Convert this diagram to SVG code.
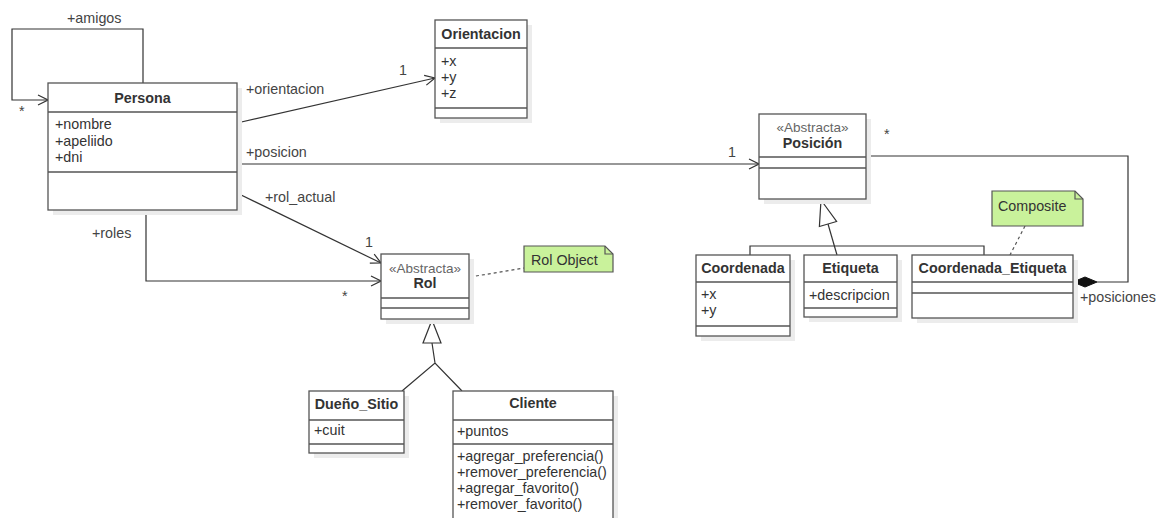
<svg xmlns="http://www.w3.org/2000/svg" width="1161" height="518" viewBox="0 0 1161 518">
<style>
text{font-family:"Liberation Sans",Arial,sans-serif;font-size:14.3px;fill:#333}
.t{font-weight:bold;text-anchor:middle}
.st{text-anchor:middle;fill:#666;font-size:13.5px}
.box{fill:#fff;stroke:#555;stroke-width:1.3}
.sh{fill:#ececec}
.div{stroke:#555;stroke-width:1.3}
.con{fill:none;stroke:#333;stroke-width:1.2}
.dash{fill:none;stroke:#555;stroke-width:1.2;stroke-dasharray:3,3}
.note{fill:#c9f29b;stroke:#555;stroke-width:1.2}
.lbl{fill:#444}
</style>
<defs>
<marker id="open" viewBox="0 0 12 12" refX="11" refY="6" markerWidth="12" markerHeight="12" markerUnits="userSpaceOnUse" orient="auto">
<path d="M1,1 L11,6 L1,11" fill="none" stroke="#333" stroke-width="1.2"/>
</marker>
</defs>
<rect width="1161" height="518" fill="#fff"/>

<g id="connectors">
<path class="con" d="M143,83 V29 H12 V100 H48" marker-end="url(#open)"/>
<path class="con" d="M237,123 L435,78" marker-end="url(#open)"/>
<path class="con" d="M237,164 L759,164" marker-end="url(#open)"/>
<path class="con" d="M237,193 L381,263" marker-end="url(#open)"/>
<path class="con" d="M146,210 V281 H381" marker-end="url(#open)"/>
<path class="con" d="M866,156 H1128 V282 H1097"/>
<path d="M1073,282 L1085,277 L1097,282 L1085,287 Z" fill="#111" stroke="#111"/>
<path class="con" d="M828,224 L837,255"/>
<path d="M821,200 L836.6,221.5 L819.4,226.5 Z" fill="#fff" stroke="#333" stroke-width="1.2"/>
<path class="con" d="M750,255 V246 H984 V255"/>
<path class="con" d="M432,343 L435,363 M402,391 L435,363 L462,391"/>
<path d="M432,320 L441,343 L423,343 Z" fill="#fff" stroke="#333" stroke-width="1.2"/>
<path class="dash" d="M470,277 L524,268"/>
<path class="dash" d="M1025,226 L1010,255"/>
<text class="lbl" x="67" y="23">+amigos</text>
<text class="lbl" x="19" y="116">*</text>
<text class="lbl" x="246" y="94">+orientacion</text>
<text class="lbl" x="399" y="75">1</text>
<text class="lbl" x="246" y="157">+posicion</text>
<text class="lbl" x="728" y="157">1</text>
<text class="lbl" x="884" y="139">*</text>
<text class="lbl" x="265" y="202">+rol_actual</text>
<text class="lbl" x="365" y="247">1</text>
<text class="lbl" x="92" y="238">+roles</text>
<text class="lbl" x="342" y="301">*</text>
<text class="lbl" x="1080" y="302">+posiciones</text>
</g>

<g id="Persona">
<rect class="sh" x="53" y="88" width="189" height="127"/>
<rect class="box" x="48" y="83" width="189" height="127"/>
<line class="div" x1="48" y1="112" x2="237" y2="112"/>
<line class="div" x1="48" y1="172" x2="237" y2="172"/>
<text class="t" x="142.5" y="103">Persona</text>
<text x="55" y="129">+nombre</text>
<text x="55" y="146">+apeliido</text>
<text x="55" y="162">+dni</text>
</g>

<g id="Orientacion">
<rect class="sh" x="440" y="25" width="92" height="98"/>
<rect class="box" x="435" y="20" width="92" height="98"/>
<line class="div" x1="435" y1="48" x2="527" y2="48"/>
<line class="div" x1="435" y1="108" x2="527" y2="108"/>
<text class="t" x="481" y="39">Orientacion</text>
<text x="441" y="66">+x</text>
<text x="441" y="82">+y</text>
<text x="441" y="98">+z</text>
</g>

<g id="Posicion">
<rect class="sh" x="764" y="119" width="107" height="85"/>
<rect class="box" x="759" y="114" width="107" height="85"/>
<line class="div" x1="759" y1="157" x2="866" y2="157"/>
<line class="div" x1="759" y1="168" x2="866" y2="168"/>
<text class="st" x="812.5" y="131.5">«Abstracta»</text>
<text class="t" x="812.5" y="148">Posición</text>
</g>

<g id="Coordenada">
<rect class="sh" x="701" y="260" width="94" height="81"/>
<rect class="box" x="696" y="255" width="94" height="81"/>
<line class="div" x1="696" y1="282" x2="790" y2="282"/>
<line class="div" x1="696" y1="326" x2="790" y2="326"/>
<text class="t" x="743" y="273">Coordenada</text>
<text x="701" y="299">+x</text>
<text x="701" y="315">+y</text>
</g>

<g id="Etiqueta">
<rect class="sh" x="809" y="260" width="93" height="62"/>
<rect class="box" x="804" y="255" width="93" height="62"/>
<line class="div" x1="804" y1="282" x2="897" y2="282"/>
<line class="div" x1="804" y1="308" x2="897" y2="308"/>
<text class="t" x="850.5" y="273">Etiqueta</text>
<text x="809" y="300">+descripcion</text>
</g>

<g id="Coordenada_Etiqueta">
<rect class="sh" x="917" y="260" width="161" height="63"/>
<rect class="box" x="912" y="255" width="161" height="63"/>
<line class="div" x1="912" y1="282" x2="1073" y2="282"/>
<line class="div" x1="912" y1="293" x2="1073" y2="293"/>
<text class="t" x="992.5" y="273">Coordenada_Etiqueta</text>
</g>

<g id="Composite">
<path class="note" d="M992,191 H1075 L1083,199 V226 H992 Z"/>
<path d="M1075,191 V199 H1083" fill="none" stroke="#555" stroke-width="1.2"/>
<text x="998" y="211">Composite</text>
</g>

<g id="Rol">
<rect class="sh" x="386" y="259" width="88" height="65"/>
<rect class="box" x="381" y="254" width="88" height="65"/>
<line class="div" x1="381" y1="298" x2="469" y2="298"/>
<line class="div" x1="381" y1="308" x2="469" y2="308"/>
<text class="st" x="425" y="273">«Abstracta»</text>
<text class="t" x="425" y="288">Rol</text>
</g>

<g id="RolObject">
<path class="note" d="M524,246 H605 L613,254 V272 H524 Z"/>
<path d="M605,246 V254 H613" fill="none" stroke="#555" stroke-width="1.2"/>
<text x="531" y="265">Rol Object</text>
</g>

<g id="Dueno_Sitio">
<rect class="sh" x="314" y="396" width="95" height="62"/>
<rect class="box" x="309" y="391" width="95" height="62"/>
<line class="div" x1="309" y1="420" x2="404" y2="420"/>
<line class="div" x1="309" y1="444" x2="404" y2="444"/>
<text class="t" x="356.5" y="409">Dueño_Sitio</text>
<text x="314" y="435">+cuit</text>
</g>

<g id="Cliente">
<rect class="sh" x="458" y="396" width="160" height="140"/>
<rect class="box" x="453" y="391" width="160" height="140"/>
<line class="div" x1="453" y1="420" x2="613" y2="420"/>
<line class="div" x1="453" y1="444" x2="613" y2="444"/>
<text class="t" x="533" y="408">Cliente</text>
<text x="457" y="436">+puntos</text>
<text x="457" y="461">+agregar_preferencia()</text>
<text x="457" y="477">+remover_preferencia()</text>
<text x="457" y="493">+agregar_favorito()</text>
<text x="457" y="509">+remover_favorito()</text>
</g>
</svg>
